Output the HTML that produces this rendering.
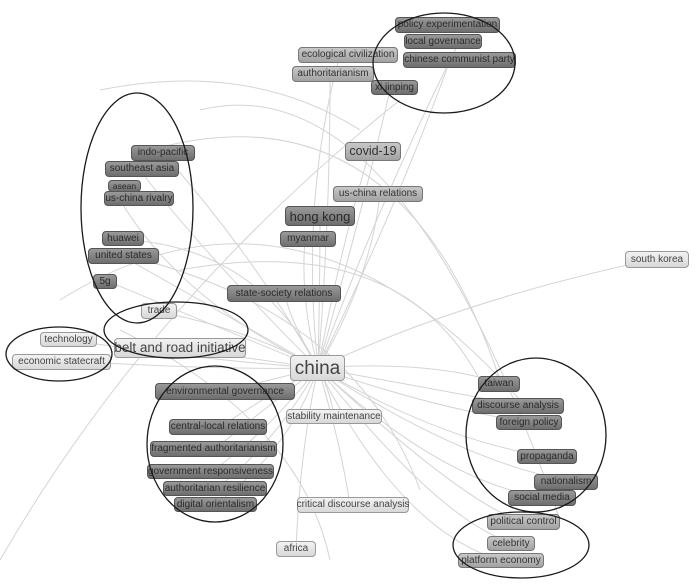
<!DOCTYPE html>
<html><head><meta charset="utf-8"><style>
body{margin:0;width:700px;height:584px;background:#fff;position:relative;overflow:hidden;font-family:"Liberation Sans","DejaVu Sans",sans-serif}
svg{position:absolute;left:0;top:0}
.n{position:absolute;box-sizing:border-box;border-radius:4px;font-size:10px;line-height:1;display:flex;align-items:center;justify-content:center;white-space:nowrap}
.d{background:linear-gradient(#999,#6e6e6e);border:1px solid #555;color:#2a2a2a}
.m{background:linear-gradient(#c8c8c8,#a2a2a2);border:1px solid #777;color:#333}
.l{background:linear-gradient(#f2f2f2,#d8d8d8);border:1px solid #999;color:#444}
.ov{position:absolute;left:0;top:0;pointer-events:none}
</style></head><body>
<svg width="700" height="584" fill="none" stroke="#d4d4d4" stroke-width="1">
<path d="M318 368 Q250 250 160 150"/><path d="M318 368 Q200 250 140 170"/><path d="M318 368 Q180 300 120 200"/>
<path d="M318 368 Q260 250 130 240"/><path d="M318 368 Q200 300 120 255"/><path d="M318 368 Q200 320 105 280"/>
<path d="M318 368 Q330 220 330 80"/><path d="M318 368 Q360 220 390 90"/><path d="M318 368 Q400 200 450 60"/>
<path d="M318 368 Q300 200 340 55"/><path d="M318 368 Q380 200 460 40"/><path d="M318 368 Q340 250 370 150"/>
<path d="M318 368 Q370 280 380 195"/><path d="M318 368 Q320 280 320 215"/><path d="M318 368 Q300 300 305 240"/>
<path d="M318 368 Q290 320 285 295"/><path d="M318 368 Q250 330 160 312"/><path d="M318 368 Q200 360 70 340"/>
<path d="M318 368 Q200 370 60 360"/><path d="M318 368 Q260 360 180 348"/><path d="M318 368 Q460 300 655 259"/>
<path d="M318 368 Q430 360 500 383"/><path d="M318 368 Q440 390 520 405"/><path d="M318 368 Q440 410 530 422"/>
<path d="M318 368 Q440 440 545 456"/><path d="M318 368 Q460 460 565 480"/><path d="M318 368 Q440 480 540 497"/>
<path d="M318 368 Q460 500 520 521"/><path d="M318 368 Q440 520 510 542"/><path d="M318 368 Q400 530 500 560"/>
<path d="M318 368 Q270 380 225 391"/><path d="M318 368 Q260 400 220 427"/><path d="M318 368 Q250 420 215 449"/>
<path d="M318 368 Q260 440 210 472"/><path d="M318 368 Q270 450 215 489"/><path d="M318 368 Q290 450 215 505"/>
<path d="M318 368 Q340 440 350 505"/><path d="M318 368 Q300 450 296 549"/><path d="M318 368 Q330 390 334 416"/>
<path d="M0 560 Q150 300 400 100"/><path d="M60 300 Q300 150 520 400"/><path d="M150 150 Q400 80 500 380"/>
<path d="M200 110 Q400 60 560 520"/><path d="M100 250 Q350 300 420 490"/><path d="M120 330 Q300 420 330 560"/>
<path d="M180 270 Q400 230 480 380"/><path d="M100 90 Q250 60 360 130"/>
</svg>
<div class="n d" style="left:395px;top:17px;width:105px;height:16px">policy experimentation</div>
<div class="n d" style="left:404px;top:34px;width:78px;height:15px">local governance</div>
<div class="n d" style="left:403px;top:52px;width:113px;height:16px">chinese communist party</div>
<div class="n m" style="left:298px;top:47px;width:100px;height:16px">ecological civilization</div>
<div class="n m" style="left:292px;top:66px;width:82px;height:16px">authoritarianism</div>
<div class="n d" style="left:371px;top:80px;width:47px;height:15px">xi jinping</div>
<div class="n m" style="left:345px;top:142px;width:56px;height:19px;font-size:12.5px">covid-19</div>
<div class="n d" style="left:131px;top:145px;width:64px;height:16px">indo-pacific</div>
<div class="n d" style="left:105px;top:161px;width:74px;height:16px">southeast asia</div>
<div class="n d" style="left:108px;top:180px;width:33px;height:12px;font-size:8.5px">asean</div>
<div class="n d" style="left:104px;top:191px;width:70px;height:15px">us-china rivalry</div>
<div class="n m" style="left:333px;top:186px;width:90px;height:16px">us-china relations</div>
<div class="n d" style="left:285px;top:206px;width:70px;height:20px;font-size:13px">hong kong</div>
<div class="n d" style="left:280px;top:231px;width:56px;height:16px">myanmar</div>
<div class="n d" style="left:102px;top:231px;width:42px;height:15px">huawei</div>
<div class="n d" style="left:88px;top:248px;width:71px;height:16px">united states</div>
<div class="n l" style="left:625px;top:251px;width:64px;height:17px">south korea</div>
<div class="n d" style="left:93px;top:274px;width:24px;height:15px">5g</div>
<div class="n d" style="left:227px;top:285px;width:114px;height:17px">state-society relations</div>
<div class="n l" style="left:141px;top:303px;width:36px;height:16px">trade</div>
<div class="n l" style="left:40px;top:332px;width:57px;height:15px">technology</div>
<div class="n l" style="left:12px;top:354px;width:99px;height:16px">economic statecraft</div>
<div class="n l" style="left:114px;top:338px;width:132px;height:20px;font-size:13.5px">belt and road initiative</div>
<div class="n l" style="left:290px;top:355px;width:55px;height:26px;font-size:19px">china</div>
<div class="n d" style="left:478px;top:376px;width:42px;height:16px">taiwan</div>
<div class="n d" style="left:155px;top:383px;width:140px;height:17px">environmental governance</div>
<div class="n d" style="left:472px;top:398px;width:92px;height:16px">discourse analysis</div>
<div class="n l" style="left:286px;top:409px;width:96px;height:15px">stability maintenance</div>
<div class="n d" style="left:496px;top:415px;width:66px;height:15px">foreign policy</div>
<div class="n d" style="left:169px;top:419px;width:98px;height:16px">central-local relations</div>
<div class="n d" style="left:150px;top:441px;width:127px;height:16px">fragmented authoritarianism</div>
<div class="n d" style="left:517px;top:449px;width:60px;height:15px">propaganda</div>
<div class="n d" style="left:147px;top:464px;width:127px;height:15px">government responsiveness</div>
<div class="n d" style="left:534px;top:474px;width:64px;height:16px">nationalism</div>
<div class="n d" style="left:163px;top:481px;width:104px;height:15px">authoritarian resilience</div>
<div class="n d" style="left:508px;top:490px;width:68px;height:16px">social media</div>
<div class="n d" style="left:174px;top:497px;width:83px;height:15px">digital orientalism</div>
<div class="n l" style="left:297px;top:497px;width:112px;height:16px">critical discourse analysis</div>
<div class="n m" style="left:487px;top:514px;width:73px;height:16px">political control</div>
<div class="n m" style="left:487px;top:536px;width:48px;height:15px">celebrity</div>
<div class="n m" style="left:458px;top:553px;width:86px;height:15px">platform economy</div>
<div class="n l" style="left:276px;top:541px;width:40px;height:16px">africa</div>
<svg class="ov" width="700" height="584" fill="none" stroke="#1a1a1a" stroke-width="1.3">
<ellipse cx="444" cy="63" rx="71" ry="50"/>
<ellipse cx="137" cy="208" rx="56" ry="115"/>
<ellipse cx="176" cy="330" rx="72" ry="28"/>
<ellipse cx="59" cy="354" rx="53" ry="27"/>
<ellipse cx="215" cy="444" rx="68" ry="78"/>
<ellipse cx="536" cy="435" rx="70" ry="77"/>
<ellipse cx="521" cy="545" rx="68" ry="33"/>
</svg>
</body></html>
